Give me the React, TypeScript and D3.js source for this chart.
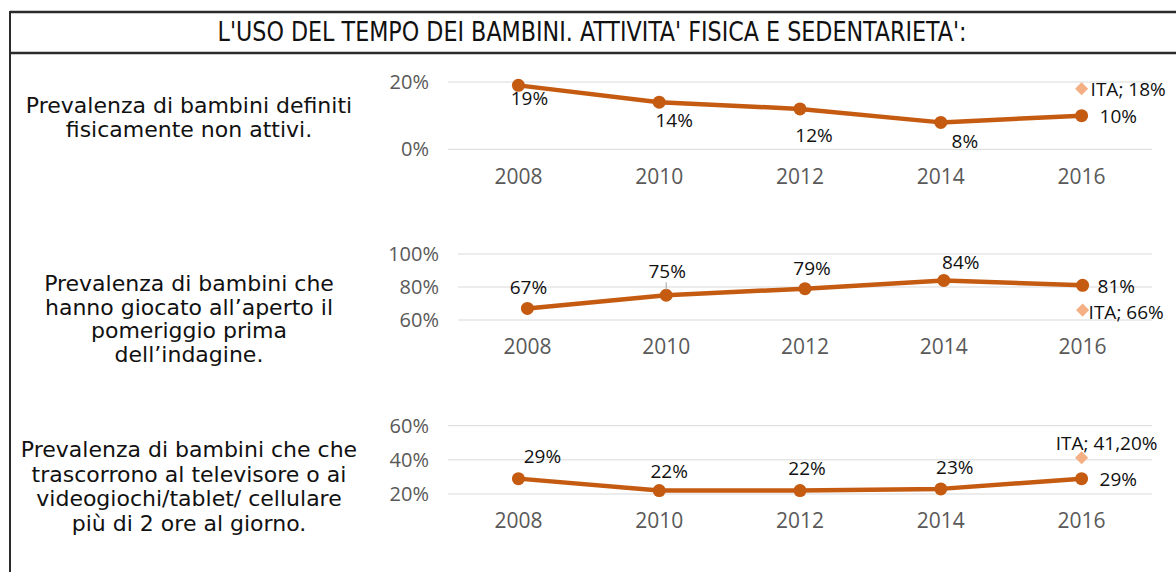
import React from 'react';
import * as d3 from 'd3';

const years = ['2008', '2010', '2012', '2014', '2016'];

const inactive = [19, 14, 12, 8, 10];
const outdoor = [67, 75, 79, 84, 81];
const screenTime = [29, 22, 22, 23, 29];

// national (Italy) reference values for 2016
const itaValues = [18, 66, 41.2];

const ticks1 = [0, 20];
const ticks2 = [60, 80, 100];
const ticks3 = [20, 40, 60];

const title = "L'USO DEL TEMPO DEI BAMBINI. ATTIVITA' FISICA E SEDENTARIETA':";

const descr1 = ['Prevalenza di bambini definiti', 'fisicamente non attivi.'];
const descr2 = ['Prevalenza di bambini che', 'hanno giocato all\u2019aperto il', 'pomeriggio prima', 'dell\u2019indagine.'];
const descr3 = ['Prevalenza di bambini che che', 'trascorrono al televisore o ai', 'videogiochi/tablet/ cellulare', 'più di 2 ore al giorno.'];

const LINE = '#C55A11';
const DIAMOND = '#F4B084';
const GRID = '#D9D9D9';
const AXIS_TXT = '#595959';
const FONT = "'Open Sans', 'DejaVu Sans', sans-serif";
const LEFT_FONT = "'DejaVu Sans', sans-serif";

const fmtIta = (v: number) =>
  Number.isInteger(v) ? `ITA; ${v}%` : `ITA; ${v.toFixed(2).replace('.', ',')}%`;

const panels = [
  {
    values: inactive, ita: itaValues[0], ticks: ticks1, descr: descr1,
    x0: 448, x1: 1152, yBottom: 149.3, yTop: 82, textTop: 113, lineGap: 24,
    // label offsets relative to the point [dx, dy, anchor]
    offs: [[11, 13, 'middle'], [15, 18, 'middle'], [14, 26, 'middle'], [24, 19, 'middle'], [18, 1, 'start']],
    itaOff: [9, 1, 'start'],
    leader: -1,
  },
  {
    values: outdoor, ita: itaValues[1], ticks: ticks2, descr: descr2,
    x0: 458, x1: 1152, yBottom: 320, yTop: 254, textTop: 291, lineGap: 23.5,
    offs: [[1, -21, 'middle'], [1, -24, 'middle'], [7, -20, 'middle'], [17, -18, 'middle'], [15, 1, 'start']],
    itaOff: [6, 2, 'start'],
    leader: 1,
  },
  {
    values: screenTime, ita: itaValues[2], ticks: ticks3, descr: descr3,
    x0: 448, x1: 1152, yBottom: 494, yTop: 425.7, textTop: 457, lineGap: 24.5,
    offs: [[24, -22, 'middle'], [10, -19, 'middle'], [7, -22, 'middle'], [14, -22, 'middle'], [18, 1, 'start']],
    itaOff: [25, -14, 'middle'],
    leader: -1,
  },
];

function Panel({ p }: { p: any }) {
  const x = d3.scaleBand().domain(years).range([p.x0, p.x1]);
  const cx = (d: string) => (x(d) as number) + x.bandwidth() / 2;
  const y = d3.scaleLinear()
    .domain([p.ticks[0], p.ticks[p.ticks.length - 1]])
    .range([p.yBottom, p.yTop]);
  const line = d3.line<number>()
    .x((_, i) => cx(years[i]))
    .y((d) => y(d));
  const last = years[years.length - 1];

  return (
    <g>
      {p.descr.map((t: string, i: number) => (
        <text key={'d' + i} x={189} y={p.textTop + i * p.lineGap} textAnchor="middle"
          fontFamily={LEFT_FONT} fontSize={22} fill="#111">{t}</text>
      ))}
      {p.ticks.map((t: number) => (
        <g key={'t' + t}>
          <line x1={p.x0} x2={p.x1} y1={y(t)} y2={y(t)} stroke={GRID} strokeWidth={1} />
          <text x={p.x0 - 19} y={y(t)} dy="0.35em" textAnchor="end"
            fontFamily={FONT} fontSize={20} fill={AXIS_TXT}>{t}%</text>
        </g>
      ))}
      {years.map((yr) => (
        <text key={yr} x={cx(yr)} y={p.yBottom + 27} dy="0.35em" textAnchor="middle"
          fontFamily={FONT} fontSize={21} fill={AXIS_TXT}>{yr}</text>
      ))}
      <path d={line(p.values) as string} fill="none" stroke={LINE} strokeWidth={4.5} strokeLinejoin="round" />
      {p.values.map((v: number, i: number) => (
        <circle key={'c' + i} cx={cx(years[i])} cy={y(v)} r={6.5} fill={LINE} />
      ))}
      {p.leader >= 0 && (
        <line x1={cx(years[p.leader])} x2={cx(years[p.leader])}
          y1={y(p.values[p.leader]) + p.offs[p.leader][1] + 11} y2={y(p.values[p.leader]) - 5}
          stroke="#A6A6A6" strokeWidth={1} />
      )}
      {p.values.map((v: number, i: number) => (
        <text key={'l' + i} x={cx(years[i]) + p.offs[i][0]} y={y(v) + p.offs[i][1]} dy="0.35em"
          textAnchor={p.offs[i][2]} fontFamily={FONT} fontSize={19} fill="#111">{v}%</text>
      ))}
      <path d={d3.symbol(d3.symbolDiamond2, 110)() as string}
        transform={`translate(${cx(last)},${y(p.ita)})`} fill={DIAMOND} />
      <text x={cx(last) + p.itaOff[0]} y={y(p.ita) + p.itaOff[1]} dy="0.35em" textAnchor={p.itaOff[2]}
        fontFamily={FONT} fontSize={19} fill="#111">{fmtIta(p.ita)}</text>
    </g>
  );
}

export default function App() {
  const width = 1176;
  const height = 572;
  return (
    <svg width={width} height={height} style={{ position: 'absolute', left: 0, top: 0, background: '#fff' }}>
      <rect x={0} y={0} width={width} height={height} fill="#fff" />
      <line x1={10} x2={width} y1={12} y2={12} stroke="#2b2b2b" strokeWidth={2.5} />
      <line x1={10} x2={width} y1={53} y2={53} stroke="#2b2b2b" strokeWidth={2.5} />
      <line x1={10} x2={10} y1={11} y2={height} stroke="#2b2b2b" strokeWidth={2} />
      <text x={592} y={40.5} textAnchor="middle" fontFamily="'Liberation Sans Narrow', 'DejaVu Sans Condensed', sans-serif"
        fontSize={27} fill="#111" textLength={749} lengthAdjust="spacingAndGlyphs">{title}</text>
      {panels.map((p, i) => <Panel key={i} p={p} />)}
    </svg>
  );
}
